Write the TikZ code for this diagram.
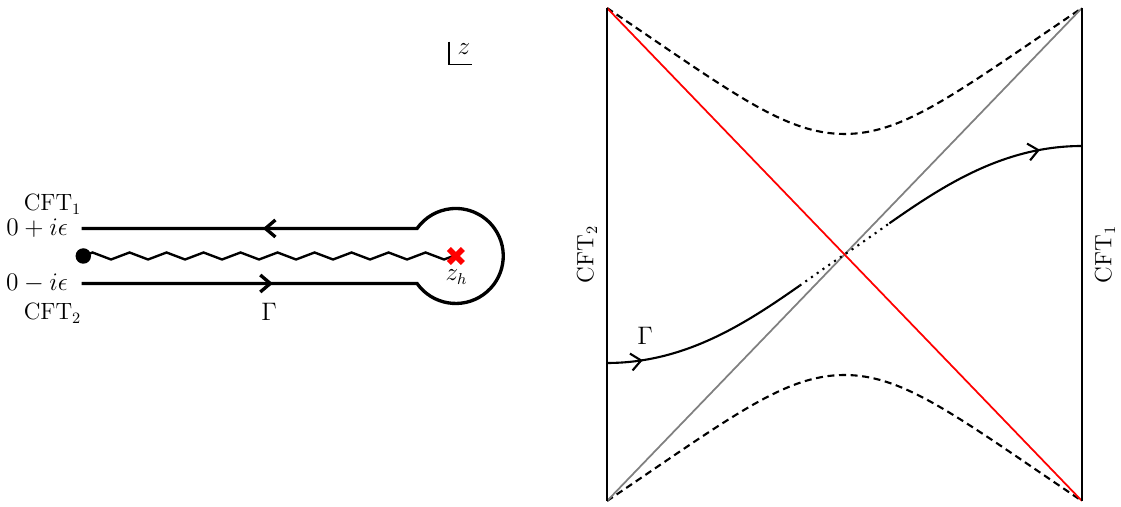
\documentclass[tikz,border=0pt]{standalone}
\usetikzlibrary{arrows.meta,calc,decorations.pathmorphing,decorations.markings}

\definecolor{horizonred}{RGB}{255,0,0}
\definecolor{horizongray}{RGB}{128,128,128}

\begin{document}
\begin{tikzpicture}[
    x=1cm,
    y=1cm,
    font=\fontsize{13.4}{16}\selectfont,
    barb/.tip={Straight Barb[length=2mm,width=3.4mm]},
    contour/.style={draw=black, line width=1.9pt},
    branchcut/.style={
        draw=black,
        line width=1.35pt,
        decorate,
        decoration={zigzag, segment length=0.74cm, amplitude=0.07cm}
    },
    wall/.style={draw=black, line width=1.3pt},
    horizon/.style={draw=#1, line width=1.0pt},
    cutoff/.style={draw=black, line width=1.2pt, dash pattern=on 4pt off 2.6pt},
    worldline/.style={draw=black, line width=1.2pt},
    hidden/.style={draw=black, line width=1.2pt, dash pattern=on 1.2pt off 2.8pt},
    arrowat/.style={
        postaction={decorate},
        decoration={markings, mark=at position #1 with {\arrow{barb}}}
    }
]

\path[use as bounding box] (0,0) rectangle (22.42,10.14);

% Complex z-plane: keyhole contour around the branch cut.
\coordinate (cutstart) at (1.666,5.02);
\coordinate (zh) at (9.116,5.02);
\coordinate (lowstart) at (1.633,4.47);
\coordinate (lowjoin) at (8.341,4.47);
\coordinate (upstart) at (1.633,5.57);

\draw[contour,
    postaction={decorate},
    decoration={markings,
        mark=at position 0.21 with {\arrow{barb}},
        mark=at position 0.801 with {\arrow{barb}}}]
    (lowstart) -- (lowjoin)
    arc[start angle=-144.6, end angle=144.6, radius=0.95]
    -- (upstart);

\draw[branchcut] (cutstart) -- (zh);
\fill[black] (cutstart) circle[radius=0.155];
\draw[horizonred, line width=3.2pt]
    ($(zh)+(-0.14,-0.14)$) -- ($(zh)+(0.14,0.14)$)
    ($(zh)+(-0.14,0.14)$) -- ($(zh)+(0.14,-0.14)$);

\node (zhlabel) at (9.13,4.60) {$z_h$};
\node[anchor=east] (upeps) at (1.48,5.57) {$0+i\epsilon$};
\node[anchor=east] (loweps) at (1.48,4.47) {$0-i\epsilon$};
\node (upcft) at (1.05,6.06) {CFT$_1$};
\node (lowcft) at (1.05,3.87) {CFT$_2$};
\node (contourlabel) at (5.38,3.90) {$\Gamma$};

% z-plane marker
\coordinate (zcorner) at (8.98,8.854);
\draw[line width=0.7pt] (8.98,9.306) -- (zcorner) -- (9.434,8.854);
\node (zlabel) at (9.28,9.16) {$z$};

% Penrose diagram of the two-sided black hole.
\coordinate (tl) at (12.14,9.98);
\coordinate (bl) at (12.14,0.12);
\coordinate (tr) at (21.64,9.98);
\coordinate (br) at (21.64,0.12);
\coordinate (origin) at (16.89,5.05);

\draw[cutoff]
    (tl) .. controls (14.63,8.30) and (15.69,7.46) .. (16.89,7.46)
    .. controls (18.09,7.46) and (19.15,8.30) .. (tr);
\draw[cutoff]
    (bl) .. controls (14.63,1.80) and (15.69,2.64) .. (16.89,2.64)
    .. controls (18.09,2.64) and (19.15,1.80) .. (br);

\draw[horizon=horizongray] (bl) -- (tr);
\draw[horizon=horizonred] (tl) -- (br);
\draw[wall] (tl) -- (bl);
\draw[wall] (tr) -- (br);

% Gamma: solid on both sides, dotted where it passes the horizon.
\coordinate (gammal) at (12.14,2.88);
\coordinate (gammar) at (21.64,7.22);
\coordinate (splitl) at (15.992,4.426);
\coordinate (splitr) at (17.788,5.674);
\draw[worldline, arrowat=0.17]
    (gammal) .. controls (13.70,2.88) and (14.904,3.664) .. (splitl);
\draw[hidden]
    (splitl) .. controls (16.298,4.642) and (16.596,4.856) .. (origin)
    .. controls (17.184,5.244) and (17.482,5.458) .. (splitr);
\draw[worldline, arrowat=0.8]
    (splitr) .. controls (18.876,6.436) and (20.08,7.22) .. (gammar);

\node (gammalabel) at (12.90,3.42) {$\Gamma$};
\node[rotate=90] (leftcft) at (11.74,5.05) {CFT$_2$};
\node[rotate=90] (rightcft) at (22.10,5.05) {CFT$_1$};

\end{tikzpicture}
\end{document}
